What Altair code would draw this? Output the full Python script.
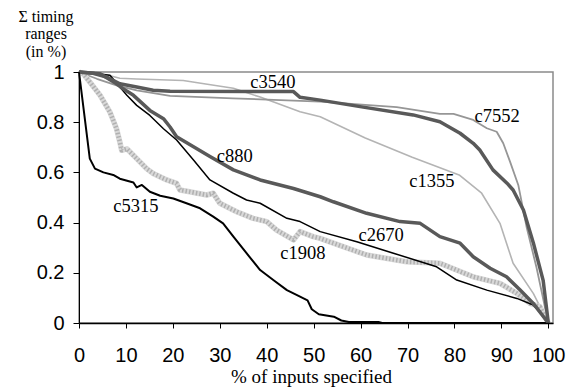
import altair as alt
import pandas as pd

x_ticks = list(range(0, 101, 10))
y_ticks = [0, 0.2, 0.4, 0.6, 0.8, 1]

c3540_x = [0, 3, 5.9, 8.7, 12.3, 15.8, 19.4, 45.7, 47.1, 51.4, 59.9, 71.2, 76.9, 81.2, 84, 85.4, 88.2, 91.2, 92.5, 94.7, 96.8, 98.9, 100]
c3540_y = [1, 0.995, 0.98, 0.953, 0.94, 0.927, 0.923, 0.922, 0.899, 0.888, 0.862, 0.829, 0.802, 0.756, 0.716, 0.689, 0.61, 0.557, 0.53, 0.45, 0.32, 0.17, 0]

c7552_x = [0, 3.8, 8, 12.3, 19.4, 32.8, 51.4, 67.7, 76.9, 79.8, 84, 86.9, 89, 90.4, 91.9, 93.6, 95.4, 97.5, 100]
c7552_y = [1, 0.973, 0.947, 0.927, 0.905, 0.895, 0.882, 0.86, 0.833, 0.833, 0.809, 0.776, 0.762, 0.716, 0.64, 0.55, 0.38, 0.22, 0]

c1355_x = [0, 4, 6.6, 8.7, 12.3, 22.2, 27, 32.9, 38.6, 47.1, 51.4, 61, 71, 81, 85.8, 89.7, 92.5, 96.8, 100]
c1355_y = [1, 0.997, 0.985, 0.975, 0.972, 0.966, 0.952, 0.935, 0.90, 0.842, 0.822, 0.737, 0.66, 0.59, 0.517, 0.397, 0.238, 0.118, 0]

c880_x = [0, 4.5, 8, 9.4, 11.6, 15.1, 18, 19.4, 20.8, 24.4, 27.9, 32.9, 38.6, 45.7, 51.4, 54.2, 61.3, 68.4, 72.7, 76.9, 81.2, 84, 87.6, 91.1, 94, 96.8, 100]
c880_y = [1, 0.993, 0.953, 0.933, 0.907, 0.847, 0.814, 0.781, 0.742, 0.702, 0.663, 0.61, 0.57, 0.536, 0.503, 0.483, 0.437, 0.404, 0.397, 0.344, 0.318, 0.264, 0.218, 0.184, 0.131, 0.078, 0]

c2670_x = [0, 6.6, 8.7, 10.2, 12.3, 15.1, 18, 20.8, 24.4, 27.9, 32.9, 35.7, 38.6, 44.3, 47.1, 51.4, 59.2, 67, 76.2, 80.5, 86.9, 93.3, 96.8, 99.6, 100]
c2670_y = [1, 0.987, 0.94, 0.907, 0.867, 0.827, 0.774, 0.729, 0.649, 0.57, 0.517, 0.49, 0.477, 0.417, 0.404, 0.364, 0.324, 0.278, 0.224, 0.171, 0.131, 0.098, 0.072, 0.012, 0]

c1908_x = [0, 0.9, 2.3, 4.5, 6.6, 8.0, 8.7, 9.1, 10.2, 12.3, 14.4, 15.8, 18.7, 20.8, 21.5, 23, 27.2, 28.6, 30, 33.6, 37.1, 40, 42.1, 45.7, 47.1, 49.9, 51.4, 54.2, 61.3, 69.8, 76.9, 84, 89.7, 93.3, 96.1, 98.2, 100]
c1908_y = [1, 0.993, 0.96, 0.907, 0.84, 0.774, 0.721, 0.688, 0.694, 0.655, 0.615, 0.596, 0.57, 0.556, 0.53, 0.525, 0.51, 0.517, 0.477, 0.443, 0.417, 0.404, 0.37, 0.331, 0.364, 0.344, 0.337, 0.318, 0.271, 0.244, 0.238, 0.184, 0.158, 0.118, 0.078, 0.065, 0]

c5315_x = [0, 2.3, 3.4, 5.2, 7.3, 8.7, 11.6, 12.3, 13.4, 15.1, 17.3, 20.1, 22.9, 25.8, 28.6, 30.7, 32.9, 35.7, 38.6, 41.4, 44.3, 47.1, 48.7, 49.6, 51.1, 54.3, 55.9, 57.5, 63.8, 64.6, 100]
c5315_y = [1, 0.655, 0.615, 0.60, 0.59, 0.575, 0.56, 0.54, 0.55, 0.523, 0.507, 0.496, 0.477, 0.457, 0.424, 0.397, 0.344, 0.278, 0.211, 0.171, 0.131, 0.105, 0.09, 0.055, 0.035, 0.025, 0.01, 0.004, 0.004, 0, 0]

label_text = ["c3540", "c7552", "c1355", "c880", "c5315", "c1908", "c2670"]
label_x = [41.3, 89.1, 75.2, 33.2, 12.1, 47.7, 64.4]
label_y = [0.962, 0.823, 0.565, 0.667, 0.465, 0.278, 0.352]

xs = alt.Scale(domain=[0, 101], nice=False, zero=False)
ys = alt.Scale(domain=[0, 1], nice=False)

x_axis = alt.Axis(values=x_ticks, format="d", grid=False, domainColor="black", domainWidth=1.5,
                  tickColor="black", tickSize=5, tickWidth=1, labelFont="Liberation Sans",
                  labelFontSize=20, labelColor="black", labelPadding=17, labelFlush=False,
                  title="% of inputs specified", titleFont="Liberation Serif", titleFontSize=19,
                  titleFontWeight="normal", titleColor="black", titleBaseline="alphabetic",
                  titleX=232, titleY=59, titleAlign="center", zindex=1)
y_axis = alt.Axis(values=y_ticks, format="~g", grid=False, domainColor="black", domainWidth=1,
                  tickColor="black", tickSize=6, tickWidth=1, labelFont="Liberation Sans",
                  labelFontSize=20, labelColor="black", labelPadding=9, labelFlush=False,
                  title=["Σ timing", "ranges", "(in %)"], titleAngle=0, titleFont="Liberation Serif",
                  titleFontSize=16, titleFontWeight="normal", titleColor="black",
                  titleBaseline="alphabetic", titleAlign="center", titleX=-33.5, titleY=-51,
                  titleLineHeight=17.5, zindex=1)

X = alt.X("x:Q", scale=xs, axis=x_axis)
Y = alt.Y("y:Q", scale=ys, axis=y_axis)


def series(xv, yv, color, width, dash=None):
    df = pd.DataFrame({"x": xv, "y": yv})
    kw = dict(color=color, strokeWidth=width, strokeJoin="round", strokeCap="butt")
    if dash:
        kw["strokeDash"] = dash
    return alt.Chart(df).mark_line(**kw).encode(x=X, y=Y)


layers = [
    series(c1355_x, c1355_y, "#b4b4b4", 1.6),
    series(c7552_x, c7552_y, "#969696", 1.8),
    series(c1908_x, c1908_y, "#d9d9d9", 5.5),
    series(c1908_x, c1908_y, "#b0b0b0", 4.5, dash=[1.5, 2]),
    series(c5315_x, c5315_y, "#000000", 2),
    series(c2670_x, c2670_y, "#000000", 1.5),
    series(c880_x, c880_y, "#595959", 3.5),
    series(c3540_x, c3540_y, "#595959", 3.5),
]

labels = alt.Chart(pd.DataFrame({"t": label_text, "x": label_x, "y": label_y})).mark_text(
    font="Liberation Serif", fontSize=18.5, color="black", align="center", baseline="middle"
).encode(x=X, y=Y, text="t:N")

chart = alt.layer(*layers, labels).properties(
    width=474, height=251,
    padding={"left": 71, "top": 64, "right": 20, "bottom": 64},
    autosize="none",
    background="white",
).configure_view(stroke="#8a8a8a", strokeWidth=1.5)

chart.save("out.html", embed_options={"renderer": "svg", "actions": False})
